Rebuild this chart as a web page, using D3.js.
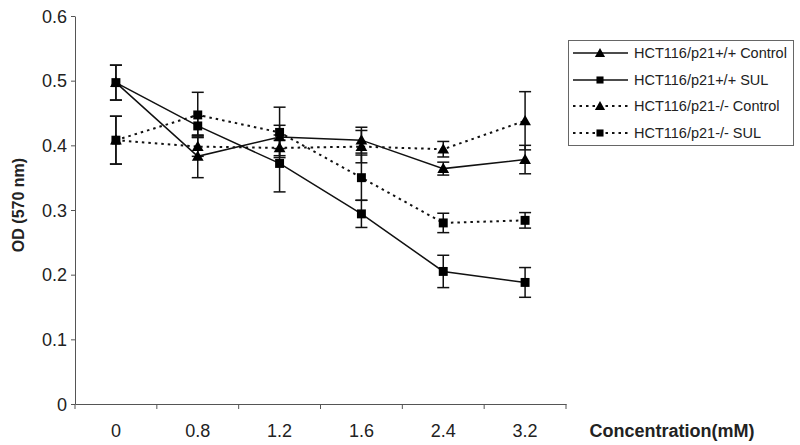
<!DOCTYPE html>
<html><head><meta charset="utf-8">
<script src="https://cdn.jsdelivr.net/npm/d3@7"></script>
<style>body{margin:0;background:#fff;}svg{display:block;font-family:"Liberation Sans",Arial,sans-serif;}</style>
</head><body>
<svg id="c" width="800" height="445"></svg>
<script>
const categories = ["0","0.8","1.2","1.6","2.4","3.2"];
const yTicks = [0,0.1,0.2,0.3,0.4,0.5,0.6];
const seriesNames = ["HCT116/p21+/+ Control","HCT116/p21+/+ SUL","HCT116/p21-/- Control","HCT116/p21-/- SUL"];
const wtControl = [0.497,0.383,0.413,0.408,0.364,0.378];
const wtControlErr = [0.027,0.033,0.018,0.020,0.010,0.022];
const wtSul = [0.497,0.430,0.372,0.294,0.205,0.188];
const wtSulErr = [0.027,0.015,0.044,0.021,0.025,0.023];
const koControl = [0.408,0.398,0.396,0.398,0.394,0.438];
const koControlErr = [0.037,0.015,0.012,0.025,0.012,0.045];
const koSul = [0.408,0.447,0.420,0.350,0.280,0.284];
const koSulErr = [0.037,0.035,0.039,0.035,0.015,0.012];

const series = [
  {name:seriesNames[0], v:wtControl, e:wtControlErr, sym:"tri", dash:null},
  {name:seriesNames[1], v:wtSul, e:wtSulErr, sym:"sq", dash:null},
  {name:seriesNames[2], v:koControl, e:koControlErr, sym:"tri", dash:"2.5,4"},
  {name:seriesNames[3], v:koSul, e:koSulErr, sym:"sq", dash:"2.5,4"}
];

const svg = d3.select("#c");
const L=75, R=566, T=16, B=404;
const x = d3.scaleBand().domain(categories).range([L,R]);
const y = d3.scaleLinear().domain([0,0.6]).range([B,T]);
const cx = c => x(c)+x.bandwidth()/2;

// y axis
const ya = svg.append("g").attr("transform",`translate(${L},0)`)
  .call(d3.axisLeft(y).tickValues(yTicks).tickFormat(d=>d===0?"0":d3.format(".1f")(d)).tickSize(4).tickSizeOuter(0));
ya.select(".domain").attr("stroke","#555").attr("stroke-width",1);
ya.selectAll(".tick line").attr("stroke","#555");
ya.selectAll("text").attr("font-size",18).attr("fill","#222").attr("x",-8).attr("dy","0.35em")
  .attr("font-family","'Liberation Sans Narrow','Liberation Sans',Arial,sans-serif");

// x axis
const xa = svg.append("g").attr("transform",`translate(0,${B})`)
  .call(d3.axisBottom(x).tickSize(0).tickSizeOuter(0));
xa.select(".domain").attr("stroke","#555").attr("stroke-width",1);
xa.selectAll(".tick line").remove();
xa.selectAll("text").attr("font-size",18).attr("fill","#222").attr("y",20).attr("dy","0.71em")
  .attr("font-family","'Liberation Sans Narrow','Liberation Sans',Arial,sans-serif");
// boundary ticks
const bounds = categories.map(c=>x(c)).concat([R]);
svg.append("g").selectAll("line").data(bounds).join("line")
  .attr("x1",d=>d).attr("x2",d=>d).attr("y1",B).attr("y2",B+5).attr("stroke","#555");

// axis titles
svg.append("text").attr("transform","translate(24,205) rotate(-90)").attr("text-anchor","middle")
  .attr("font-size",16).attr("font-weight","bold").attr("fill","#222").text("OD (570 nm)");
svg.append("text").attr("x",672).attr("y",437).attr("text-anchor","middle")
  .attr("font-size",18).attr("font-weight","bold").attr("fill","#222")
  .attr("font-family","'Liberation Sans Narrow','Liberation Sans',Arial,sans-serif").text("Concentration(mM)");

const line = d3.line().x((d,i)=>cx(categories[i])).y(d=>y(d));
const triSym = d3.symbol().type(d3.symbolTriangle).size(60);
const sqSym = d3.symbol().type(d3.symbolSquare).size(80);

// error bars
series.forEach(s=>{
  const g = svg.append("g");
  s.v.forEach((v,i)=>{
    const X = cx(categories[i]);
    const top = y(v+s.e[i]), bot = y(v-s.e[i]);
    g.append("line").attr("x1",X).attr("x2",X).attr("y1",top).attr("y2",bot).attr("stroke","#111").attr("stroke-width",1.5);
    [top,bot].forEach(yy=>g.append("line").attr("x1",X-6).attr("x2",X+6).attr("y1",yy).attr("y2",yy).attr("stroke","#111").attr("stroke-width",1.5));
  });
});
// lines and markers
series.forEach(s=>{
  svg.append("path").datum(s.v).attr("d",line).attr("fill","none").attr("stroke","#111")
    .attr("stroke-width",s.dash?2:1.5).attr("stroke-dasharray",s.dash);
  svg.append("g").selectAll("path").data(s.v).join("path")
    .attr("d",s.sym==="tri"?triSym:sqSym)
    .attr("transform",(d,i)=>`translate(${cx(categories[i])},${y(d)+(s.sym==="tri"?1:0)})`)
    .attr("fill","#000");
});

// legend
const lg = svg.append("g");
lg.append("rect").attr("x",568.5).attr("y",40.5).attr("width",225).attr("height",105)
  .attr("fill","#fff").attr("stroke","#666").attr("stroke-width",1);
const rowY = [53,80,106,133];
series.forEach((s,i)=>{
  const ry = rowY[i];
  lg.append("line").attr("x1",573).attr("x2",628).attr("y1",ry).attr("y2",ry).attr("stroke","#111")
    .attr("stroke-width",s.dash?2:1.5).attr("stroke-dasharray",s.dash);
  lg.append("path").attr("d",d3.symbol().type(s.sym==="tri"?d3.symbolTriangle:d3.symbolSquare).size(s.sym==="tri"?45:50)())
    .attr("transform",`translate(600,${ry+(s.sym==="tri"?1:0)})`).attr("fill","#000");
  lg.append("text").attr("x",634).attr("y",ry).attr("dy","0.35em").attr("font-size",14.5).attr("fill","#222").text(s.name);
});
</script>
</body></html>
